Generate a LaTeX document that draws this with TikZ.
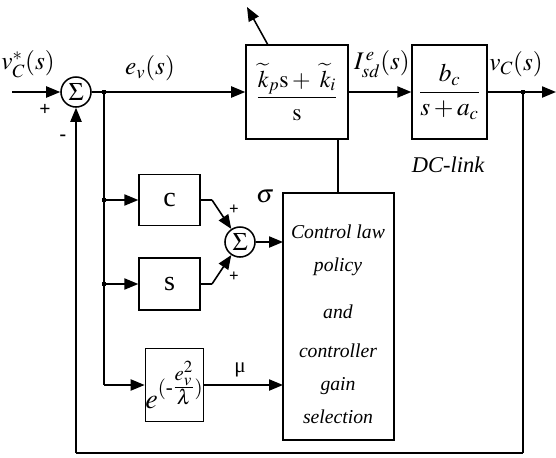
\documentclass[tikz,border=0pt]{standalone}
\usepackage{amsmath}
\usepackage{mathptmx}
\usepackage{fontspec}
\setmainfont{Liberation Serif}
\usetikzlibrary{arrows.meta}
\tikzstyle{none}=[inner sep=0pt]
\tikzstyle{block}=[draw=black, line width=1.1pt, inner sep=0pt]
\tikzstyle{sum}=[draw=black, circle, line width=1.1pt, minimum size=0.75cm, inner sep=0pt]
\tikzstyle{dot}=[fill=black, rectangle, minimum size=3.5pt, inner sep=0pt]
\tikzstyle{simple}=[-,draw=black,line width=1.1pt]
\tikzstyle{arrow}=[-{Triangle[length=0.35cm,width=0.28cm]},draw=black,line width=1.1pt]
\newcommand{\lbl}{\fontsize{18}{20}\selectfont}

\begin{document}
\begin{tikzpicture}
  \useasboundingbox (0,0) rectangle (13.9,-11.45);
  \node [style=none] (0) at (0.3, -2.3) {};
  \node [style=sum] (1) at (1.9, -2.3) {\lbl$\Sigma$};
  \node [style=dot] (2) at (2.6, -2.3) {};
  \node [style=block, minimum width=2.55cm, minimum height=2.35cm] (3) at (7.425, -2.3) {\fontsize{17}{19}\selectfont$\dfrac{\widetilde{k}_p\mathrm{s} +\ \widetilde{k}_i}{\mathrm{s}}$};
  \node [style=block, minimum width=1.875cm, minimum height=2.35cm] (4) at (11.24, -2.3) {\lbl$\dfrac{b_c}{s+a_c}$};
  \node [style=dot] (5) at (13.075, -2.3) {};
  \node [style=none] (6) at (13.9, -2.3) {};
  \node [style=none] (7) at (13.075, -11.325) {};
  \node [style=none] (8) at (1.9, -11.325) {};
  \node [style=dot] (9) at (2.6, -5) {};
  \node [style=dot] (10) at (2.6, -7.1) {};
  \node [style=none] (11) at (2.6, -9.625) {};
  \node [style=block, minimum width=1.525cm, minimum height=1.275cm] (12) at (4.24, -5) {\fontsize{20}{22}\selectfont c};
  \node [style=block, minimum width=1.525cm, minimum height=1.3cm] (13) at (4.24, -7.1) {\fontsize{20}{22}\selectfont s};
  \node [style=block, minimum width=1.375cm, minimum height=1.825cm] (14) at (4.36, -9.625) {\fontsize{20}{22}\selectfont$e^{(\text{-}\tfrac{e_v^2}{\lambda})}$};
  \node [style=sum] (15) at (6, -6.05) {\lbl$\Sigma$};
  \node [style=none] (16) at (5.3, -5) {};
  \node [style=none] (17) at (5.3, -7.1) {};
  \node [style=block, minimum width=2.775cm, minimum height=6.175cm] (18) at (8.4625, -7.9125) {};
  \node [style=none] (19) at (7.075, -6.05) {};
  \node [style=none] (20) at (7.075, -9.625) {};
  \node [style=none] (21) at (8.45, -4.825) {};
  \node [style=none] (22) at (8.45, -3.475) {};
  \node [style=none] (23) at (6.7, -1.125) {};
  \node [style=none] (24) at (6.175, -0.175) {};
  \node [style=none] (25) at (0.7, -1.6) {\lbl$v_C^*(s)$};
  \node [style=none] (26) at (1.125, -2.75) {\fontsize{14}{14}\selectfont\textbf{+}};
  \node [style=none] (27) at (1.575, -3.45) {\fontsize{14}{14}\selectfont\textbf{-}};
  \node [style=none] (28) at (3.75, -1.7) {\lbl$e_v(s)$};
  \node [style=none] (29) at (9.55, -1.6) {\lbl$I_{sd}^{\,e}(s)$};
  \node [style=none] (30) at (12.9, -1.6) {\lbl$v_C(s)$};
  \node [style=none] (31) at (11.2, -4.125) {\fontsize{16}{18}\selectfont\itshape DC-link};
  \node [style=none] (32) at (6.625, -4.925) {\lbl$\sigma$};
  \node [style=none] (33) at (5.85, -5.25) {\fontsize{12}{12}\selectfont\textbf{+}};
  \node [style=none] (34) at (5.85, -6.925) {\fontsize{12}{12}\selectfont\textbf{+}};
  \node [style=none] (35) at (6, -9.25) {\fontsize{15}{15}\selectfont μ};
  \node [style=none, align=center, font=\fontsize{14}{23.5}\selectfont\itshape] (36) at (8.45, -8.1) {Control law\\policy\\[0.35cm]and\\[0.15cm]controller\\gain\\selection};
  \draw [style=arrow] (0.center) to (1);
  \draw [style=simple] (1) to (2.center);
  \draw [style=arrow] (2.center) to (3);
  \draw [style=arrow] (3) to (4);
  \draw [style=arrow] (4) to (6.center);
  \draw [style=simple] (5.center) to (7.center);
  \draw [style=simple] (7.center) to (8.center);
  \draw [style=arrow] (8.center) to (1);
  \draw [style=simple] (2.center) to (11.center);
  \draw [style=arrow] (9.center) to (12);
  \draw [style=arrow] (10.center) to (13);
  \draw [style=arrow] (11.center) to (14);
  \draw [style=simple] (12) to (16.center);
  \draw [style=arrow] (16.center) to (15);
  \draw [style=simple] (13) to (17.center);
  \draw [style=arrow] (17.center) to (15);
  \draw [style=arrow] (15) to (19.center);
  \draw [style=arrow] (14) to (20.center);
  \draw [style=simple] (21.center) to (22.center);
  \draw [style=arrow] (23.center) to (24.center);
\end{tikzpicture}
\end{document}
